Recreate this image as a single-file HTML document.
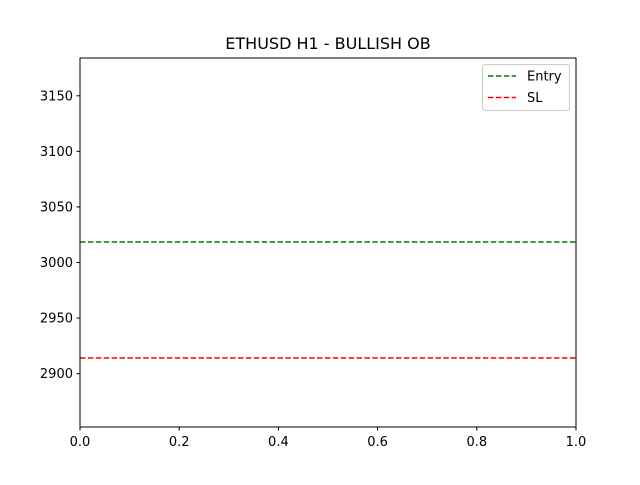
<!DOCTYPE html>
<html><head><meta charset="utf-8"><style>
body{margin:0;background:#fff}
svg text{font-family:"DejaVu Sans","Liberation Sans",sans-serif;fill:#000}
</style></head><body>
<svg id="chart" width="640" height="480" xmlns="http://www.w3.org/2000/svg"></svg>
<script>
const yTicks=[2900,2950,3000,3050,3100,3150];
const xTicks=[0.0,0.2,0.4,0.6,0.8,1.0];
const seriesNames=["Entry","SL"];
const seriesValues=[3018.5,2914];
const seriesColors=["#008000","#ff0000"];
const yMin=2852,yMax=3184,xMin=0,xMax=1;
const L=80,R=576,T=58,B=427;
const sx=v=>L+(v-xMin)/(xMax-xMin)*(R-L);
const sy=v=>B-(v-yMin)/(yMax-yMin)*(B-T);
const svg=document.getElementById('chart');
const NS='http://www.w3.org/2000/svg';
function mk(tag,attrs,text){const e=document.createElementNS(NS,tag);for(const k in attrs)e.setAttribute(k,attrs[k]);if(text!==undefined)e.textContent=text;svg.appendChild(e);return e;}
let t=mk('text',{x:328,y:49,'text-anchor':'middle','font-size':16},'ETHUSD H1 - BULLISH OB');


seriesValues.forEach((v,i)=>{
  const y=Math.round(sy(v));
  const l=mk('line',{x1:L,x2:R,y1:y,y2:y,stroke:seriesColors[i],'stroke-width':1.6,'stroke-dasharray':'5.5,2.4'});
  
  
});
const ax=mk('rect',{x:L,y:T,width:R-L,height:B-T,fill:'none',stroke:'#000','stroke-width':1});


yTicks.forEach(v=>{
  const y=sy(v);
  const tk=mk('line',{x1:L-3.5,x2:L,y1:y,y2:y,stroke:'#000'});
  
  
  const tl=mk('text',{x:L-7,y:y+4.5,'text-anchor':'end','font-size':13},String(v));
  
  
});
xTicks.forEach(v=>{
  const x=sx(v);
  const tk=mk('line',{x1:x,x2:x,y1:B,y2:B+3.5,stroke:'#000'});
  
  
  const tl=mk('text',{x:x,y:B+19,'text-anchor':'middle','font-size':13},v.toFixed(1));
  
  
});
const lg=mk('rect',{x:482.5,y:64.5,width:87,height:46,rx:3,fill:'#fff','fill-opacity':0.8,stroke:'#ccc'});


seriesNames.forEach((n,i)=>{
  const y=76+i*21.5;
  const s=mk('line',{x1:488,x2:516,y1:y,y2:y,stroke:seriesColors[i],'stroke-width':1.6,'stroke-dasharray':'5.5,2.4'});
  
  
  const tx=mk('text',{x:527,y:y+4.5,'font-size':13},n);
  
  
});
</script>
</body></html>
